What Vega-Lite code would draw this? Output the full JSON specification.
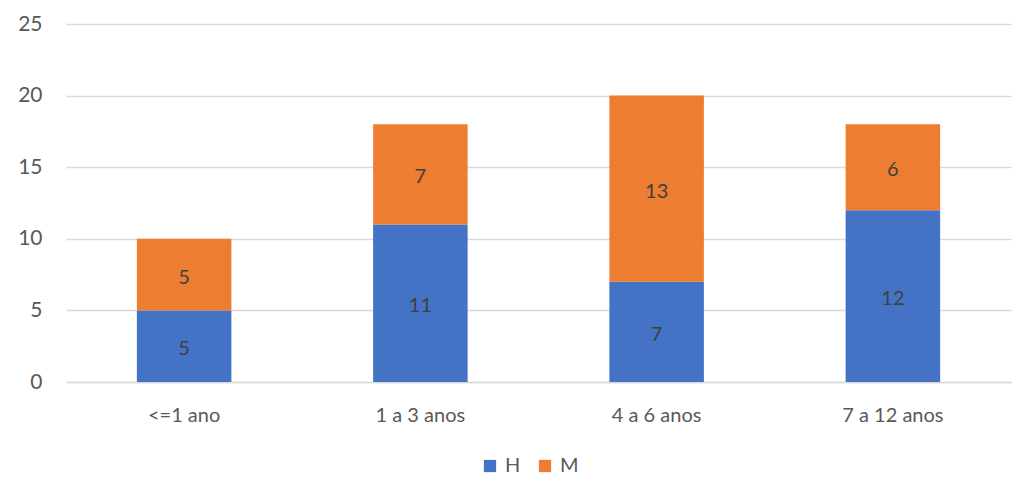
{
  "$schema": "https://vega.github.io/schema/vega-lite/v6.json",
  "width": 945,
  "height": 358,
  "autosize": {"type": "none"},
  "padding": {"left": 66, "top": 24, "right": 3, "bottom": 97},
  "background": "#ffffff",
  "config": {
    "font": "Lato",
    "view": {"stroke": null}
  },
  "data": {
    "values": [
      {"faixa": "<=1 ano", "sexo": "H", "n": 5},
      {"faixa": "<=1 ano", "sexo": "M", "n": 5},
      {"faixa": "1 a 3 anos", "sexo": "H", "n": 11},
      {"faixa": "1 a 3 anos", "sexo": "M", "n": 7},
      {"faixa": "4 a 6 anos", "sexo": "H", "n": 7},
      {"faixa": "4 a 6 anos", "sexo": "M", "n": 13},
      {"faixa": "7 a 12 anos", "sexo": "H", "n": 12},
      {"faixa": "7 a 12 anos", "sexo": "M", "n": 6}
    ]
  },
  "transform": [
    {"stack": "n", "groupby": ["faixa"], "sort": [{"field": "sexo", "order": "ascending"}], "as": ["n0", "n1"]},
    {"calculate": "(datum.n0 + datum.n1) / 2", "as": "meio"}
  ],
  "layer": [
    {
      "mark": {"type": "bar"},
      "encoding": {
        "x": {
          "field": "faixa",
          "type": "nominal",
          "sort": ["<=1 ano", "1 a 3 anos", "4 a 6 anos", "7 a 12 anos"],
          "scale": {"paddingInner": 0.6, "paddingOuter": 0.3},
          "axis": {
            "title": null,
            "labelAngle": 0,
            "labelFontSize": 20,
            "labelColor": "#595959",
            "labelPadding": 23,
            "ticks": false,
            "domainColor": "#d9d9d9",
            "domainWidth": 1.5
          }
        },
        "y": {
          "field": "n0",
          "type": "quantitative",
          "scale": {"domain": [0, 25], "nice": false},
          "axis": {
            "title": null,
            "values": [0, 5, 10, 15, 20, 25],
            "labelFontSize": 21,
            "labelColor": "#595959",
            "labelPadding": 24,
            "ticks": false,
            "domain": false,
            "gridColor": "#d9d9d9",
            "gridWidth": 1.5
          }
        },
        "y2": {"field": "n1"},
        "color": {
          "field": "sexo",
          "type": "nominal",
          "scale": {"domain": ["H", "M"], "range": ["#4472C4", "#ED7D31"]},
          "legend": {
            "title": null,
            "orient": "none",
            "direction": "horizontal",
            "legendX": 414,
            "legendY": 432,
            "symbolType": "square",
            "symbolSize": 150,
            "symbolStrokeWidth": 0,
            "labelFontSize": 20,
            "labelColor": "#595959",
            "columnPadding": 14,
            "labelOffset": 5
          }
        }
      }
    },
    {
      "mark": {"type": "text", "fontSize": 20, "color": "#404040", "baseline": "middle", "dy": 3},
      "encoding": {
        "x": {
          "field": "faixa",
          "type": "nominal",
          "sort": ["<=1 ano", "1 a 3 anos", "4 a 6 anos", "7 a 12 anos"]
        },
        "y": {"field": "meio", "type": "quantitative"},
        "text": {"field": "n", "type": "quantitative"}
      }
    }
  ]
}
